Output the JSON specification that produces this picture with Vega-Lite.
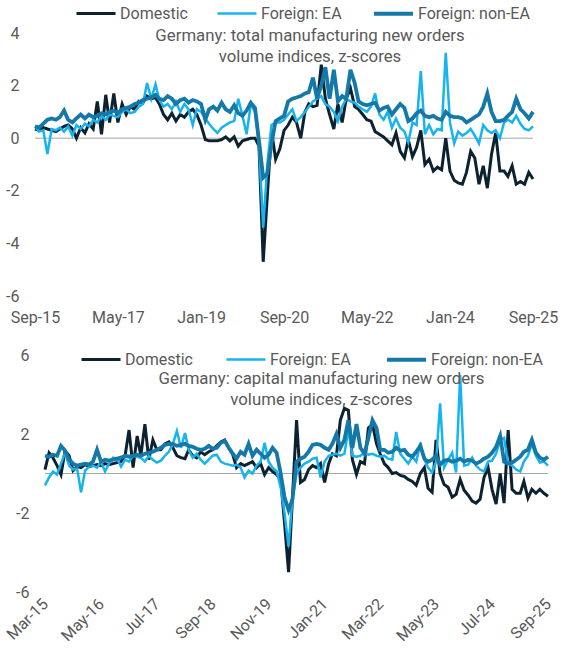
{
  "$schema": "https://vega.github.io/schema/vega-lite/v6.json",
  "background": "white",
  "padding": {"left": 3, "top": -8, "right": 5, "bottom": 5},
  "spacing": 13,
  "config": {
    "font": "Roboto",
    "view": {"stroke": null},
    "axis": {"labelFont": "Roboto", "labelFontSize": 16, "labelColor": "#595959", "domain": false, "ticks": false, "grid": false, "labelOverlap": false, "labelFlush": false}
  },
  "resolve": {"scale": {"color": "independent", "strokeWidth": "independent", "x": "independent", "y": "independent"}, "legend": {"color": "independent"}},
  "vconcat": [
    {
      "width": 498,
      "height": 263,
      "title": {"text": ["Germany: total manufacturing new orders", "volume indices, z-scores"], "anchor": "middle", "frame": "group", "dx": 26, "baseline": "top", "offset": -74, "fontSize": 16.8, "fontWeight": "normal", "color": "#595959", "lineHeight": 21, "font": "Roboto"},
      "layer": [
        {
          "data": {"values": [{"zero": 0}]},
          "mark": {"type": "rule", "color": "#a6a6a6", "strokeWidth": 1},
          "encoding": {"y": {"field": "zero", "type": "quantitative"}}
        },
        {
          "data": {
            "format": {"parse": {"m": "date:'%Y-%m'"}},
            "values": [
              {"m": "2015-09", "Domestic": 0.35, "Foreign: EA": 0.45, "Foreign: non-EA": 0.45},
              {"m": "2015-10", "Domestic": 0.3, "Foreign: EA": 0.25, "Foreign: non-EA": 0.4},
              {"m": "2015-11", "Domestic": 0.4, "Foreign: EA": 0.3, "Foreign: non-EA": 0.55},
              {"m": "2015-12", "Domestic": 0.35, "Foreign: EA": -0.6, "Foreign: non-EA": 0.7},
              {"m": "2016-01", "Domestic": 0.3, "Foreign: EA": 0.35, "Foreign: non-EA": 0.75},
              {"m": "2016-02", "Domestic": 0.25, "Foreign: EA": 0.3, "Foreign: non-EA": 0.7},
              {"m": "2016-03", "Domestic": 0.35, "Foreign: EA": 0.4, "Foreign: non-EA": 0.8},
              {"m": "2016-04", "Domestic": 0.45, "Foreign: EA": 0.25, "Foreign: non-EA": 1.05},
              {"m": "2016-05", "Domestic": 0.5, "Foreign: EA": 0.45, "Foreign: non-EA": 0.7},
              {"m": "2016-06", "Domestic": 0.35, "Foreign: EA": 0.1, "Foreign: non-EA": 0.6},
              {"m": "2016-07", "Domestic": 0.0, "Foreign: EA": 0.5, "Foreign: non-EA": 0.75},
              {"m": "2016-08", "Domestic": 0.4, "Foreign: EA": 0.35, "Foreign: non-EA": 0.9},
              {"m": "2016-09", "Domestic": 0.2, "Foreign: EA": 0.55, "Foreign: non-EA": 0.75},
              {"m": "2016-10", "Domestic": 0.55, "Foreign: EA": 0.45, "Foreign: non-EA": 0.9},
              {"m": "2016-11", "Domestic": 0.35, "Foreign: EA": 0.7, "Foreign: non-EA": 0.8},
              {"m": "2016-12", "Domestic": 1.4, "Foreign: EA": 0.6, "Foreign: non-EA": 0.85},
              {"m": "2017-01", "Domestic": 0.15, "Foreign: EA": 0.85, "Foreign: non-EA": 0.95},
              {"m": "2017-02", "Domestic": 1.65, "Foreign: EA": 0.7, "Foreign: non-EA": 0.9},
              {"m": "2017-03", "Domestic": 0.6, "Foreign: EA": 0.9, "Foreign: non-EA": 1.0},
              {"m": "2017-04", "Domestic": 1.7, "Foreign: EA": 0.85, "Foreign: non-EA": 1.05},
              {"m": "2017-05", "Domestic": 0.6, "Foreign: EA": 0.8, "Foreign: non-EA": 0.95},
              {"m": "2017-06", "Domestic": 1.3, "Foreign: EA": 1.0, "Foreign: non-EA": 1.1},
              {"m": "2017-07", "Domestic": 0.9, "Foreign: EA": 1.1, "Foreign: non-EA": 1.15},
              {"m": "2017-08", "Domestic": 1.2, "Foreign: EA": 0.95, "Foreign: non-EA": 1.2},
              {"m": "2017-09", "Domestic": 1.1, "Foreign: EA": 1.0, "Foreign: non-EA": 1.3},
              {"m": "2017-10", "Domestic": 1.4, "Foreign: EA": 1.2, "Foreign: non-EA": 1.35},
              {"m": "2017-11", "Domestic": 1.35, "Foreign: EA": 1.3, "Foreign: non-EA": 1.45},
              {"m": "2017-12", "Domestic": 1.6, "Foreign: EA": 2.1, "Foreign: non-EA": 1.5},
              {"m": "2018-01", "Domestic": 1.5, "Foreign: EA": 1.5, "Foreign: non-EA": 1.55},
              {"m": "2018-02", "Domestic": 1.55, "Foreign: EA": 2.05, "Foreign: non-EA": 1.65},
              {"m": "2018-03", "Domestic": 1.3, "Foreign: EA": 1.45, "Foreign: non-EA": 1.5},
              {"m": "2018-04", "Domestic": 0.9, "Foreign: EA": 1.2, "Foreign: non-EA": 1.45},
              {"m": "2018-05", "Domestic": 0.7, "Foreign: EA": 1.3, "Foreign: non-EA": 1.6},
              {"m": "2018-06", "Domestic": 0.95, "Foreign: EA": 1.1, "Foreign: non-EA": 1.5},
              {"m": "2018-07", "Domestic": 0.65, "Foreign: EA": 1.4, "Foreign: non-EA": 1.3},
              {"m": "2018-08", "Domestic": 0.9, "Foreign: EA": 1.0, "Foreign: non-EA": 1.45},
              {"m": "2018-09", "Domestic": 0.8, "Foreign: EA": 1.3, "Foreign: non-EA": 1.5},
              {"m": "2018-10", "Domestic": 1.0, "Foreign: EA": 1.1, "Foreign: non-EA": 1.35},
              {"m": "2018-11", "Domestic": 1.1, "Foreign: EA": 0.5, "Foreign: non-EA": 1.45},
              {"m": "2018-12", "Domestic": 0.9, "Foreign: EA": 1.1, "Foreign: non-EA": 1.4},
              {"m": "2019-01", "Domestic": 0.5, "Foreign: EA": 1.0, "Foreign: non-EA": 1.3},
              {"m": "2019-02", "Domestic": -0.05, "Foreign: EA": 0.75, "Foreign: non-EA": 0.7},
              {"m": "2019-03", "Domestic": -0.1, "Foreign: EA": 0.55, "Foreign: non-EA": 1.1},
              {"m": "2019-04", "Domestic": -0.1, "Foreign: EA": 0.35, "Foreign: non-EA": 1.2},
              {"m": "2019-05", "Domestic": -0.1, "Foreign: EA": 0.2, "Foreign: non-EA": 1.05},
              {"m": "2019-06", "Domestic": -0.05, "Foreign: EA": 0.4, "Foreign: non-EA": 1.35},
              {"m": "2019-07", "Domestic": 0.05, "Foreign: EA": 0.5, "Foreign: non-EA": 1.1},
              {"m": "2019-08", "Domestic": -0.1, "Foreign: EA": 0.6, "Foreign: non-EA": 1.0},
              {"m": "2019-09", "Domestic": 0.05, "Foreign: EA": 0.65, "Foreign: non-EA": 1.25},
              {"m": "2019-10", "Domestic": -0.3, "Foreign: EA": 1.5, "Foreign: non-EA": 0.95},
              {"m": "2019-11", "Domestic": -0.1, "Foreign: EA": 0.85, "Foreign: non-EA": 0.85},
              {"m": "2019-12", "Domestic": -0.05, "Foreign: EA": 0.15, "Foreign: non-EA": 1.05},
              {"m": "2020-01", "Domestic": 0.0, "Foreign: EA": 1.3, "Foreign: non-EA": 1.35},
              {"m": "2020-02", "Domestic": 0.0, "Foreign: EA": 1.0, "Foreign: non-EA": 1.15},
              {"m": "2020-03", "Domestic": -0.3, "Foreign: EA": -0.3, "Foreign: non-EA": -0.1},
              {"m": "2020-04", "Domestic": -4.7, "Foreign: EA": -3.4, "Foreign: non-EA": -1.5},
              {"m": "2020-05", "Domestic": -2.2, "Foreign: EA": -1.0, "Foreign: non-EA": -1.35},
              {"m": "2020-06", "Domestic": 0.3, "Foreign: EA": 0.5, "Foreign: non-EA": -0.2},
              {"m": "2020-07", "Domestic": -0.8, "Foreign: EA": 0.6, "Foreign: non-EA": 0.65},
              {"m": "2020-08", "Domestic": -0.4, "Foreign: EA": 0.6, "Foreign: non-EA": 0.75},
              {"m": "2020-09", "Domestic": 0.3, "Foreign: EA": 0.7, "Foreign: non-EA": 0.85},
              {"m": "2020-10", "Domestic": 0.5, "Foreign: EA": 0.9, "Foreign: non-EA": 1.4},
              {"m": "2020-11", "Domestic": 0.8, "Foreign: EA": 1.1, "Foreign: non-EA": 1.5},
              {"m": "2020-12", "Domestic": 0.6, "Foreign: EA": 0.65, "Foreign: non-EA": 1.55},
              {"m": "2021-01", "Domestic": 0.0, "Foreign: EA": 0.8, "Foreign: non-EA": 1.6},
              {"m": "2021-02", "Domestic": 1.0, "Foreign: EA": 1.0, "Foreign: non-EA": 1.7},
              {"m": "2021-03", "Domestic": 1.3, "Foreign: EA": 1.2, "Foreign: non-EA": 1.75},
              {"m": "2021-04", "Domestic": 1.2, "Foreign: EA": 1.4, "Foreign: non-EA": 2.3},
              {"m": "2021-05", "Domestic": 1.25, "Foreign: EA": 1.5, "Foreign: non-EA": 1.5},
              {"m": "2021-06", "Domestic": 2.8, "Foreign: EA": 1.6, "Foreign: non-EA": 2.0},
              {"m": "2021-07", "Domestic": 1.5, "Foreign: EA": 1.3, "Foreign: non-EA": 2.7},
              {"m": "2021-08", "Domestic": 0.9, "Foreign: EA": 1.2, "Foreign: non-EA": 1.5},
              {"m": "2021-09", "Domestic": 0.35, "Foreign: EA": 1.0, "Foreign: non-EA": 2.6},
              {"m": "2021-10", "Domestic": 1.3, "Foreign: EA": 0.65, "Foreign: non-EA": 1.4},
              {"m": "2021-11", "Domestic": 0.6, "Foreign: EA": 1.2, "Foreign: non-EA": 1.6},
              {"m": "2021-12", "Domestic": 1.5, "Foreign: EA": 1.5, "Foreign: non-EA": 1.5},
              {"m": "2022-01", "Domestic": 1.9, "Foreign: EA": 1.4, "Foreign: non-EA": 2.6},
              {"m": "2022-02", "Domestic": 1.2, "Foreign: EA": 1.35, "Foreign: non-EA": 2.1},
              {"m": "2022-03", "Domestic": 1.1, "Foreign: EA": 1.2, "Foreign: non-EA": 1.4},
              {"m": "2022-04", "Domestic": 0.9, "Foreign: EA": 1.1, "Foreign: non-EA": 1.3},
              {"m": "2022-05", "Domestic": 0.7, "Foreign: EA": 1.0, "Foreign: non-EA": 1.25},
              {"m": "2022-06", "Domestic": 0.65, "Foreign: EA": 1.2, "Foreign: non-EA": 1.3},
              {"m": "2022-07", "Domestic": 0.25, "Foreign: EA": 1.7, "Foreign: non-EA": 1.35},
              {"m": "2022-08", "Domestic": 0.15, "Foreign: EA": 0.9, "Foreign: non-EA": 1.05},
              {"m": "2022-09", "Domestic": 0.05, "Foreign: EA": 0.7, "Foreign: non-EA": 1.15},
              {"m": "2022-10", "Domestic": -0.1, "Foreign: EA": 1.0, "Foreign: non-EA": 1.2},
              {"m": "2022-11", "Domestic": -0.25, "Foreign: EA": 0.4, "Foreign: non-EA": 0.9},
              {"m": "2022-12", "Domestic": 0.2, "Foreign: EA": 0.75, "Foreign: non-EA": 1.1},
              {"m": "2023-01", "Domestic": -0.5, "Foreign: EA": 0.4, "Foreign: non-EA": 1.3},
              {"m": "2023-02", "Domestic": -0.75, "Foreign: EA": 0.25, "Foreign: non-EA": 1.15},
              {"m": "2023-03", "Domestic": -0.05, "Foreign: EA": -0.15, "Foreign: non-EA": 0.65},
              {"m": "2023-04", "Domestic": -0.7, "Foreign: EA": 0.6, "Foreign: non-EA": 0.75},
              {"m": "2023-05", "Domestic": -0.35, "Foreign: EA": 0.5, "Foreign: non-EA": 0.95},
              {"m": "2023-06", "Domestic": 0.3, "Foreign: EA": 2.55, "Foreign: non-EA": 1.05},
              {"m": "2023-07", "Domestic": -1.0, "Foreign: EA": 0.15, "Foreign: non-EA": 0.85},
              {"m": "2023-08", "Domestic": -0.8, "Foreign: EA": 0.5, "Foreign: non-EA": 0.8},
              {"m": "2023-09", "Domestic": -1.25, "Foreign: EA": 0.15, "Foreign: non-EA": 0.85},
              {"m": "2023-10", "Domestic": -1.1, "Foreign: EA": 0.35, "Foreign: non-EA": 0.75},
              {"m": "2023-11", "Domestic": -1.2, "Foreign: EA": 0.3, "Foreign: non-EA": 0.7},
              {"m": "2023-12", "Domestic": 0.0, "Foreign: EA": 3.25, "Foreign: non-EA": 1.0},
              {"m": "2024-01", "Domestic": -1.25, "Foreign: EA": 0.6, "Foreign: non-EA": 0.85},
              {"m": "2024-02", "Domestic": -1.6, "Foreign: EA": -0.2, "Foreign: non-EA": 0.8},
              {"m": "2024-03", "Domestic": -1.7, "Foreign: EA": 0.25, "Foreign: non-EA": 0.8},
              {"m": "2024-04", "Domestic": -1.75, "Foreign: EA": 0.1, "Foreign: non-EA": 0.75},
              {"m": "2024-05", "Domestic": -1.3, "Foreign: EA": 0.2, "Foreign: non-EA": 0.6},
              {"m": "2024-06", "Domestic": -0.5, "Foreign: EA": 0.35, "Foreign: non-EA": 0.7},
              {"m": "2024-07", "Domestic": -0.75, "Foreign: EA": 0.1, "Foreign: non-EA": 0.8},
              {"m": "2024-08", "Domestic": -1.75, "Foreign: EA": -0.2, "Foreign: non-EA": 0.9},
              {"m": "2024-09", "Domestic": -1.05, "Foreign: EA": 0.5, "Foreign: non-EA": 1.2},
              {"m": "2024-10", "Domestic": -1.9, "Foreign: EA": 0.3, "Foreign: non-EA": 1.7},
              {"m": "2024-11", "Domestic": -0.6, "Foreign: EA": 0.2, "Foreign: non-EA": 1.0},
              {"m": "2024-12", "Domestic": 0.2, "Foreign: EA": 0.3, "Foreign: non-EA": 0.65},
              {"m": "2025-01", "Domestic": -1.25, "Foreign: EA": 0.0, "Foreign: non-EA": 0.65},
              {"m": "2025-02", "Domestic": -1.25, "Foreign: EA": 0.6, "Foreign: non-EA": 0.7},
              {"m": "2025-03", "Domestic": -1.45, "Foreign: EA": 0.7, "Foreign: non-EA": 0.85},
              {"m": "2025-04", "Domestic": -1.05, "Foreign: EA": 0.6, "Foreign: non-EA": 1.0},
              {"m": "2025-05", "Domestic": -1.75, "Foreign: EA": 0.85, "Foreign: non-EA": 1.5},
              {"m": "2025-06", "Domestic": -1.65, "Foreign: EA": 0.55, "Foreign: non-EA": 1.1},
              {"m": "2025-07", "Domestic": -1.75, "Foreign: EA": 0.35, "Foreign: non-EA": 0.95},
              {"m": "2025-08", "Domestic": -1.3, "Foreign: EA": 0.3, "Foreign: non-EA": 0.75},
              {"m": "2025-09", "Domestic": -1.55, "Foreign: EA": 0.45, "Foreign: non-EA": 1.0}
            ]
          },
          "transform": [{"fold": ["Domestic", "Foreign: EA", "Foreign: non-EA"], "as": ["series", "value"]}],
          "mark": {"type": "line"},
          "encoding": {
            "x": {
              "field": "m", "type": "temporal",
              "scale": {"domain": [{"year": 2015, "month": 9, "date": 1}, {"year": 2025, "month": 9, "date": 1}], "nice": false},
              "axis": {"title": null, "format": "%b-%y", "labelPadding": 13,
                "values": [{"year": 2015, "month": 9, "date": 1}, {"year": 2017, "month": 5, "date": 1}, {"year": 2019, "month": 1, "date": 1}, {"year": 2020, "month": 9, "date": 1}, {"year": 2022, "month": 5, "date": 1}, {"year": 2024, "month": 1, "date": 1}, {"year": 2025, "month": 9, "date": 1}]}
            },
            "y": {
              "field": "value", "type": "quantitative",
              "scale": {"domain": [-6, 4], "nice": false, "zero": false},
              "axis": {"title": null, "values": [-6, -4, -2, 0, 2, 4], "labelExpr": "'' + datum.value", "labelPadding": 16}
            },
            "color": {
              "field": "series", "type": "nominal",
              "scale": {"domain": ["Domestic", "Foreign: EA", "Foreign: non-EA"], "range": ["#0c2230", "#16b4ef", "#1479a8"]},
              "legend": {"orient": "none", "legendX": 40, "legendY": -41, "direction": "horizontal", "title": null, "symbolType": "stroke", "symbolSize": 1521, "symbolStrokeWidth": 3.5, "labelFont": "Roboto", "labelFontSize": 16, "labelColor": "#595959", "labelOffset": 3, "columnPadding": 24, "labelLimit": 300}
            },
            "strokeWidth": {
              "field": "series", "type": "nominal",
              "scale": {"type": "ordinal", "domain": ["Domestic", "Foreign: EA", "Foreign: non-EA"], "range": [3, 2.5, 3.8]},
              "legend": null
            }
          }
        }
      ]
    },
    {
      "width": 513,
      "height": 237,
      "title": {"text": ["Germany: capital manufacturing new orders", "volume indices, z-scores"], "anchor": "middle", "frame": "group", "dx": 30, "baseline": "top", "offset": -71, "fontSize": 16.8, "fontWeight": "normal", "color": "#595959", "lineHeight": 21, "font": "Roboto"},
      "layer": [
        {
          "data": {"values": [{"start": "2015-03", "end": "2025-09", "zero": 0}], "format": {"parse": {"start": "date:'%Y-%m'", "end": "date:'%Y-%m'"}}},
          "mark": {"type": "rule", "color": "#a6a6a6", "strokeWidth": 1},
          "encoding": {
            "x": {"field": "start", "type": "temporal"},
            "x2": {"field": "end"},
            "y": {"field": "zero", "type": "quantitative"}
          }
        },
        {
          "data": {
            "format": {"parse": {"m": "date:'%Y-%m'"}},
            "values": [
              {"m": "2015-03", "Domestic": 0.2, "Foreign: EA": -0.6, "Foreign: non-EA": 0.9},
              {"m": "2015-04", "Domestic": 1.05, "Foreign: EA": -0.2, "Foreign: non-EA": 0.85},
              {"m": "2015-05", "Domestic": 0.8, "Foreign: EA": 0.1, "Foreign: non-EA": 0.95},
              {"m": "2015-06", "Domestic": 0.4, "Foreign: EA": -0.05, "Foreign: non-EA": 0.9},
              {"m": "2015-07", "Domestic": -0.05, "Foreign: EA": 0.5, "Foreign: non-EA": 1.4},
              {"m": "2015-08", "Domestic": 1.15, "Foreign: EA": 1.05, "Foreign: non-EA": 1.15},
              {"m": "2015-09", "Domestic": 0.9, "Foreign: EA": 0.4, "Foreign: non-EA": 0.7},
              {"m": "2015-10", "Domestic": 0.15, "Foreign: EA": 0.2, "Foreign: non-EA": 0.5},
              {"m": "2015-11", "Domestic": 0.35, "Foreign: EA": 0.25, "Foreign: non-EA": 0.4},
              {"m": "2015-12", "Domestic": 0.3, "Foreign: EA": -0.95, "Foreign: non-EA": 0.45},
              {"m": "2016-01", "Domestic": 0.45, "Foreign: EA": 0.15, "Foreign: non-EA": 0.5},
              {"m": "2016-02", "Domestic": 0.35, "Foreign: EA": 0.35, "Foreign: non-EA": 0.45},
              {"m": "2016-03", "Domestic": 0.4, "Foreign: EA": 0.4, "Foreign: non-EA": 0.6},
              {"m": "2016-04", "Domestic": 0.45, "Foreign: EA": 0.3, "Foreign: non-EA": 1.2},
              {"m": "2016-05", "Domestic": 0.4, "Foreign: EA": 0.6, "Foreign: non-EA": 0.6},
              {"m": "2016-06", "Domestic": 0.5, "Foreign: EA": 0.1, "Foreign: non-EA": 0.7},
              {"m": "2016-07", "Domestic": 0.45, "Foreign: EA": 0.5, "Foreign: non-EA": 0.65},
              {"m": "2016-08", "Domestic": 0.5, "Foreign: EA": 0.8, "Foreign: non-EA": 0.7},
              {"m": "2016-09", "Domestic": 0.55, "Foreign: EA": 0.75, "Foreign: non-EA": 0.75},
              {"m": "2016-10", "Domestic": 0.6, "Foreign: EA": 0.35, "Foreign: non-EA": 0.8},
              {"m": "2016-11", "Domestic": 0.9, "Foreign: EA": 0.7, "Foreign: non-EA": 0.9},
              {"m": "2016-12", "Domestic": 2.2, "Foreign: EA": 0.6, "Foreign: non-EA": 0.85},
              {"m": "2017-01", "Domestic": 0.3, "Foreign: EA": 0.9, "Foreign: non-EA": 0.9},
              {"m": "2017-02", "Domestic": 1.9, "Foreign: EA": 0.85, "Foreign: non-EA": 0.95},
              {"m": "2017-03", "Domestic": 0.9, "Foreign: EA": 0.8, "Foreign: non-EA": 0.9},
              {"m": "2017-04", "Domestic": 2.5, "Foreign: EA": 0.6, "Foreign: non-EA": 1.0},
              {"m": "2017-05", "Domestic": 0.7, "Foreign: EA": 0.9, "Foreign: non-EA": 1.05},
              {"m": "2017-06", "Domestic": 1.7, "Foreign: EA": 0.7, "Foreign: non-EA": 1.1},
              {"m": "2017-07", "Domestic": 1.2, "Foreign: EA": 0.55, "Foreign: non-EA": 1.2},
              {"m": "2017-08", "Domestic": 1.2, "Foreign: EA": 0.65, "Foreign: non-EA": 1.3},
              {"m": "2017-09", "Domestic": 1.5, "Foreign: EA": 0.9, "Foreign: non-EA": 1.45},
              {"m": "2017-10", "Domestic": 1.6, "Foreign: EA": 1.1, "Foreign: non-EA": 1.5},
              {"m": "2017-11", "Domestic": 1.3, "Foreign: EA": 1.5, "Foreign: non-EA": 1.5},
              {"m": "2017-12", "Domestic": 0.9, "Foreign: EA": 2.15, "Foreign: non-EA": 1.4},
              {"m": "2018-01", "Domestic": 0.8, "Foreign: EA": 1.3, "Foreign: non-EA": 1.45},
              {"m": "2018-02", "Domestic": 0.75, "Foreign: EA": 2.05, "Foreign: non-EA": 1.5},
              {"m": "2018-03", "Domestic": 1.2, "Foreign: EA": 1.2, "Foreign: non-EA": 1.4},
              {"m": "2018-04", "Domestic": 0.9, "Foreign: EA": 0.8, "Foreign: non-EA": 1.35},
              {"m": "2018-05", "Domestic": 0.8, "Foreign: EA": 1.0, "Foreign: non-EA": 1.25},
              {"m": "2018-06", "Domestic": 1.1, "Foreign: EA": 0.7, "Foreign: non-EA": 1.2},
              {"m": "2018-07", "Domestic": 0.95, "Foreign: EA": 0.5, "Foreign: non-EA": 1.25},
              {"m": "2018-08", "Domestic": 1.1, "Foreign: EA": 0.7, "Foreign: non-EA": 1.4},
              {"m": "2018-09", "Domestic": 1.2, "Foreign: EA": 0.9, "Foreign: non-EA": 1.25},
              {"m": "2018-10", "Domestic": 1.4, "Foreign: EA": 0.95, "Foreign: non-EA": 1.3},
              {"m": "2018-11", "Domestic": 1.6, "Foreign: EA": 0.6, "Foreign: non-EA": 1.55},
              {"m": "2018-12", "Domestic": 1.7, "Foreign: EA": 0.5, "Foreign: non-EA": 1.65},
              {"m": "2019-01", "Domestic": 1.3, "Foreign: EA": 0.45, "Foreign: non-EA": 1.3},
              {"m": "2019-02", "Domestic": 0.95, "Foreign: EA": 0.4, "Foreign: non-EA": 1.0},
              {"m": "2019-03", "Domestic": 0.3, "Foreign: EA": 0.45, "Foreign: non-EA": 0.75},
              {"m": "2019-04", "Domestic": 0.5, "Foreign: EA": 0.3, "Foreign: non-EA": 1.1},
              {"m": "2019-05", "Domestic": 0.4, "Foreign: EA": -0.2, "Foreign: non-EA": 0.95},
              {"m": "2019-06", "Domestic": 0.5, "Foreign: EA": 0.15, "Foreign: non-EA": 1.5},
              {"m": "2019-07", "Domestic": 0.6, "Foreign: EA": 0.0, "Foreign: non-EA": 0.9},
              {"m": "2019-08", "Domestic": 0.3, "Foreign: EA": 0.4, "Foreign: non-EA": 1.2},
              {"m": "2019-09", "Domestic": 0.5, "Foreign: EA": 0.6, "Foreign: non-EA": 1.0},
              {"m": "2019-10", "Domestic": -0.05, "Foreign: EA": 1.55, "Foreign: non-EA": 0.8},
              {"m": "2019-11", "Domestic": 0.3, "Foreign: EA": 0.6, "Foreign: non-EA": 0.95},
              {"m": "2019-12", "Domestic": 0.1, "Foreign: EA": 0.3, "Foreign: non-EA": 1.3},
              {"m": "2020-01", "Domestic": -0.05, "Foreign: EA": 0.1, "Foreign: non-EA": 1.05},
              {"m": "2020-02", "Domestic": -0.3, "Foreign: EA": -0.7, "Foreign: non-EA": 0.0},
              {"m": "2020-03", "Domestic": -2.5, "Foreign: EA": -2.0, "Foreign: non-EA": -1.2},
              {"m": "2020-04", "Domestic": -5.0, "Foreign: EA": -3.7, "Foreign: non-EA": -1.85},
              {"m": "2020-05", "Domestic": -1.2, "Foreign: EA": -1.2, "Foreign: non-EA": -1.3},
              {"m": "2020-06", "Domestic": 2.7, "Foreign: EA": 0.0, "Foreign: non-EA": 0.6},
              {"m": "2020-07", "Domestic": -0.45, "Foreign: EA": 0.3, "Foreign: non-EA": 0.75},
              {"m": "2020-08", "Domestic": -0.3, "Foreign: EA": 0.5, "Foreign: non-EA": 0.85},
              {"m": "2020-09", "Domestic": 0.2, "Foreign: EA": 0.6, "Foreign: non-EA": 1.1},
              {"m": "2020-10", "Domestic": 0.4, "Foreign: EA": 0.75, "Foreign: non-EA": 1.45},
              {"m": "2020-11", "Domestic": 0.3, "Foreign: EA": 0.8, "Foreign: non-EA": 1.5},
              {"m": "2020-12", "Domestic": 0.5, "Foreign: EA": -0.2, "Foreign: non-EA": 1.45},
              {"m": "2021-01", "Domestic": -0.45, "Foreign: EA": 0.6, "Foreign: non-EA": 1.3},
              {"m": "2021-02", "Domestic": 0.5, "Foreign: EA": 0.9, "Foreign: non-EA": 1.2},
              {"m": "2021-03", "Domestic": 1.0, "Foreign: EA": 0.95, "Foreign: non-EA": 1.5},
              {"m": "2021-04", "Domestic": 0.9, "Foreign: EA": 1.0, "Foreign: non-EA": 2.0},
              {"m": "2021-05", "Domestic": 2.7, "Foreign: EA": 0.9, "Foreign: non-EA": 1.3},
              {"m": "2021-06", "Domestic": 3.3, "Foreign: EA": 1.0, "Foreign: non-EA": 1.7},
              {"m": "2021-07", "Domestic": 3.2, "Foreign: EA": 2.2, "Foreign: non-EA": 2.7},
              {"m": "2021-08", "Domestic": 0.7, "Foreign: EA": 0.9, "Foreign: non-EA": 1.3},
              {"m": "2021-09", "Domestic": -0.05, "Foreign: EA": 0.85, "Foreign: non-EA": 2.5},
              {"m": "2021-10", "Domestic": 0.6, "Foreign: EA": 0.9, "Foreign: non-EA": 1.3},
              {"m": "2021-11", "Domestic": 0.5, "Foreign: EA": 1.05, "Foreign: non-EA": 1.0},
              {"m": "2021-12", "Domestic": 2.3, "Foreign: EA": 0.95, "Foreign: non-EA": 1.8},
              {"m": "2022-01", "Domestic": 2.5, "Foreign: EA": 1.0, "Foreign: non-EA": 2.7},
              {"m": "2022-02", "Domestic": 1.5, "Foreign: EA": 0.9, "Foreign: non-EA": 2.3},
              {"m": "2022-03", "Domestic": 1.0, "Foreign: EA": 0.85, "Foreign: non-EA": 1.2},
              {"m": "2022-04", "Domestic": 0.5, "Foreign: EA": 0.9, "Foreign: non-EA": 1.2},
              {"m": "2022-05", "Domestic": 0.3, "Foreign: EA": 0.75, "Foreign: non-EA": 1.05},
              {"m": "2022-06", "Domestic": 0.0, "Foreign: EA": 0.7, "Foreign: non-EA": 1.1},
              {"m": "2022-07", "Domestic": 0.05, "Foreign: EA": 2.1, "Foreign: non-EA": 1.3},
              {"m": "2022-08", "Domestic": -0.1, "Foreign: EA": 1.0, "Foreign: non-EA": 1.15},
              {"m": "2022-09", "Domestic": -0.15, "Foreign: EA": 0.75, "Foreign: non-EA": 1.2},
              {"m": "2022-10", "Domestic": -0.3, "Foreign: EA": 0.5, "Foreign: non-EA": 0.95},
              {"m": "2022-11", "Domestic": -0.4, "Foreign: EA": 0.85, "Foreign: non-EA": 0.85},
              {"m": "2022-12", "Domestic": -0.6, "Foreign: EA": 0.6, "Foreign: non-EA": 1.1},
              {"m": "2023-01", "Domestic": 0.0, "Foreign: EA": 1.55, "Foreign: non-EA": 1.4},
              {"m": "2023-02", "Domestic": 0.3, "Foreign: EA": 0.7, "Foreign: non-EA": 0.75},
              {"m": "2023-03", "Domestic": -0.75, "Foreign: EA": 0.3, "Foreign: non-EA": 0.6},
              {"m": "2023-04", "Domestic": -0.95, "Foreign: EA": 0.05, "Foreign: non-EA": 0.7},
              {"m": "2023-05", "Domestic": 1.7, "Foreign: EA": 0.6, "Foreign: non-EA": 0.9},
              {"m": "2023-06", "Domestic": 0.0, "Foreign: EA": 3.55, "Foreign: non-EA": 0.45},
              {"m": "2023-07", "Domestic": -0.55, "Foreign: EA": 0.3, "Foreign: non-EA": 0.65},
              {"m": "2023-08", "Domestic": -0.7, "Foreign: EA": 0.7, "Foreign: non-EA": 0.7},
              {"m": "2023-09", "Domestic": -1.2, "Foreign: EA": 1.05, "Foreign: non-EA": 0.6},
              {"m": "2023-10", "Domestic": -1.05, "Foreign: EA": 0.05, "Foreign: non-EA": 0.65},
              {"m": "2023-11", "Domestic": -0.3, "Foreign: EA": 5.0, "Foreign: non-EA": 0.75},
              {"m": "2023-12", "Domestic": -0.85, "Foreign: EA": 0.4, "Foreign: non-EA": 0.6},
              {"m": "2024-01", "Domestic": -1.1, "Foreign: EA": 0.45, "Foreign: non-EA": 0.7},
              {"m": "2024-02", "Domestic": -1.4, "Foreign: EA": 0.8, "Foreign: non-EA": 0.65},
              {"m": "2024-03", "Domestic": -1.5, "Foreign: EA": 0.4, "Foreign: non-EA": 0.5},
              {"m": "2024-04", "Domestic": -1.3, "Foreign: EA": 0.2, "Foreign: non-EA": 0.6},
              {"m": "2024-05", "Domestic": -0.2, "Foreign: EA": 0.1, "Foreign: non-EA": 0.75},
              {"m": "2024-06", "Domestic": 0.3, "Foreign: EA": 0.6, "Foreign: non-EA": 0.85},
              {"m": "2024-07", "Domestic": -0.8, "Foreign: EA": 0.65, "Foreign: non-EA": 1.05},
              {"m": "2024-08", "Domestic": -1.55, "Foreign: EA": 1.0, "Foreign: non-EA": 1.35},
              {"m": "2024-09", "Domestic": 0.0, "Foreign: EA": 1.7, "Foreign: non-EA": 1.9},
              {"m": "2024-10", "Domestic": -1.5, "Foreign: EA": 1.8, "Foreign: non-EA": 0.6},
              {"m": "2024-11", "Domestic": 2.2, "Foreign: EA": 0.5, "Foreign: non-EA": 0.5},
              {"m": "2024-12", "Domestic": -0.8, "Foreign: EA": 0.4, "Foreign: non-EA": 0.55},
              {"m": "2025-01", "Domestic": -1.0, "Foreign: EA": 0.2, "Foreign: non-EA": 0.7},
              {"m": "2025-02", "Domestic": -1.0, "Foreign: EA": 0.1, "Foreign: non-EA": 0.85},
              {"m": "2025-03", "Domestic": -0.4, "Foreign: EA": 0.6, "Foreign: non-EA": 1.1},
              {"m": "2025-04", "Domestic": -1.25, "Foreign: EA": 0.9, "Foreign: non-EA": 1.2},
              {"m": "2025-05", "Domestic": -0.8, "Foreign: EA": 1.5, "Foreign: non-EA": 1.7},
              {"m": "2025-06", "Domestic": -1.0, "Foreign: EA": 0.9, "Foreign: non-EA": 1.05},
              {"m": "2025-07", "Domestic": -0.8, "Foreign: EA": 0.55, "Foreign: non-EA": 0.8},
              {"m": "2025-08", "Domestic": -1.0, "Foreign: EA": 0.6, "Foreign: non-EA": 0.7},
              {"m": "2025-09", "Domestic": -1.15, "Foreign: EA": 0.4, "Foreign: non-EA": 0.85}
            ]
          },
          "transform": [{"fold": ["Domestic", "Foreign: EA", "Foreign: non-EA"], "as": ["series", "value"]}],
          "mark": {"type": "line"},
          "encoding": {
            "x": {
              "field": "m", "type": "temporal",
              "scale": {"domain": [{"year": 2015, "month": 3, "date": 1}, {"year": 2025, "month": 9, "date": 1}], "nice": false, "range": [10, 513]},
              "axis": {"title": null, "format": "%b-%y", "labelAngle": -45, "labelAlign": "right", "labelBaseline": "middle", "labelPadding": 9,
                "values": [{"year": 2015, "month": 3, "date": 1}, {"year": 2016, "month": 5, "date": 1}, {"year": 2017, "month": 7, "date": 1}, {"year": 2018, "month": 9, "date": 1}, {"year": 2019, "month": 11, "date": 1}, {"year": 2021, "month": 1, "date": 1}, {"year": 2022, "month": 3, "date": 1}, {"year": 2023, "month": 5, "date": 1}, {"year": 2024, "month": 7, "date": 1}, {"year": 2025, "month": 9, "date": 1}]}
            },
            "y": {
              "field": "value", "type": "quantitative",
              "scale": {"domain": [-6, 6], "nice": false, "zero": false},
              "axis": {"title": null, "values": [-6, -4, -2, 0, 2, 4, 6], "labelExpr": "'' + datum.value", "labelPadding": 6}
            },
            "color": {
              "field": "series", "type": "nominal",
              "scale": {"domain": ["Domestic", "Foreign: EA", "Foreign: non-EA"], "range": ["#0c2230", "#16b4ef", "#1479a8"]},
              "legend": {"orient": "none", "legendX": 45, "legendY": -17, "direction": "horizontal", "title": null, "symbolType": "stroke", "symbolSize": 1521, "symbolStrokeWidth": 3.5, "labelFont": "Roboto", "labelFontSize": 16, "labelColor": "#595959", "labelOffset": 3, "columnPadding": 28, "labelLimit": 300}
            },
            "strokeWidth": {
              "field": "series", "type": "nominal",
              "scale": {"type": "ordinal", "domain": ["Domestic", "Foreign: EA", "Foreign: non-EA"], "range": [3, 2.5, 3.8]},
              "legend": null
            }
          }
        }
      ]
    }
  ]
}
